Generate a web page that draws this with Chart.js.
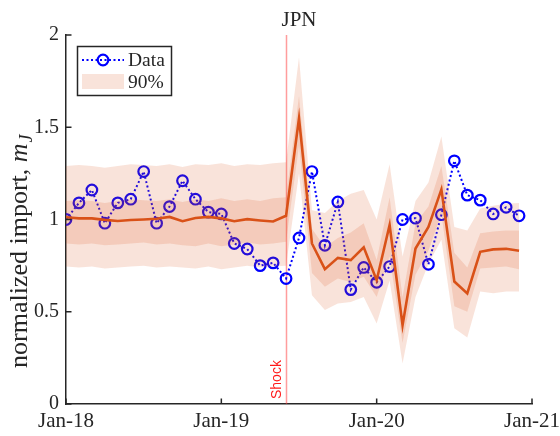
<!DOCTYPE html>
<html>
<head>
<meta charset="utf-8">
<title>JPN – normalized import</title>
<script src="https://cdn.jsdelivr.net/npm/chart.js@4/dist/chart.umd.min.js"></script>
<style>
  html, body { margin: 0; padding: 0; background: #fff; }
  #wrap { width: 560px; height: 436px; position: relative; }
</style>
</head>
<body>
<div id="wrap"><canvas id="c" width="560" height="436"></canvas></div>
<script>
/* ── Data ─────────────────────────────────────────────────────
   monthly, Jan-18 … Dec-20
──────────────────────────────────────────────────────────── */
const MONTHS = [
  "Jan-18","Feb-18","Mar-18","Apr-18","May-18","Jun-18","Jul-18","Aug-18","Sep-18","Oct-18","Nov-18","Dec-18",
  "Jan-19","Feb-19","Mar-19","Apr-19","May-19","Jun-19","Jul-19","Aug-19","Sep-19","Oct-19","Nov-19","Dec-19",
  "Jan-20","Feb-20","Mar-20","Apr-20","May-20","Jun-20","Jul-20","Aug-20","Sep-20","Oct-20","Nov-20","Dec-20",
];

const DATA = [
  1.00, 1.09, 1.16, 0.98, 1.09, 1.11, 1.26, 0.98, 1.07, 1.21, 1.11, 1.04,
  1.03, 0.87, 0.84, 0.75, 0.765, 0.68, 0.90, 1.26, 0.86, 1.095, 0.62, 0.74,
  0.66, 0.745, 1.00, 1.007, 0.757, 1.026, 1.318, 1.132, 1.105, 1.03, 1.066, 1.02,
];

const MEDIAN = [
  1.012, 1.006, 1.006, 0.998, 0.992, 0.997, 1.0, 1.004, 1.014, 0.991, 1.008, 1.014,
  1.006, 0.991, 1.002, 0.995, 0.989, 1.02, 1.548, 0.87, 0.731, 0.792, 0.78, 0.849,
  0.671, 0.97, 0.427, 0.843, 0.96, 1.163, 0.664, 0.599, 0.825, 0.838, 0.841, 0.831,
];

// outer band (90%)
const BAND_OUT_HI = [
  1.29, 1.295, 1.29, 1.28, 1.29, 1.30, 1.295, 1.29, 1.30, 1.285, 1.30, 1.295,
  1.305, 1.29, 1.30, 1.295, 1.305, 1.31, 1.88, 1.05, 1.035, 1.10, 1.14, 1.16,
  1.00, 1.30, 0.80, 1.10, 1.20, 1.45, 0.96, 0.94, 1.06, 1.075, 1.085, 1.09,
];
const BAND_OUT_LO = [
  0.745, 0.74, 0.745, 0.735, 0.74, 0.745, 0.75, 0.74, 0.745, 0.74, 0.735, 0.745,
  0.73, 0.74, 0.75, 0.74, 0.745, 0.75, 1.25, 0.59, 0.51, 0.545, 0.553, 0.58,
  0.436, 0.67, 0.22, 0.58, 0.76, 0.89, 0.41, 0.36, 0.61, 0.60, 0.61, 0.61,
];

// inner band
const BAND_IN_HI = [
  1.10, 1.105, 1.10, 1.09, 1.10, 1.11, 1.105, 1.10, 1.11, 1.095, 1.11, 1.10,
  1.115, 1.10, 1.11, 1.10, 1.115, 1.12, 1.67, 0.95, 0.85, 0.90, 0.93, 0.98,
  0.78, 1.12, 0.58, 0.98, 1.07, 1.29, 0.82, 0.74, 0.925, 0.935, 0.94, 0.94,
];
const BAND_IN_LO = [
  0.87, 0.865, 0.87, 0.86, 0.865, 0.87, 0.875, 0.865, 0.87, 0.86, 0.855, 0.87,
  0.855, 0.865, 0.875, 0.865, 0.87, 0.88, 1.40, 0.71, 0.635, 0.68, 0.66, 0.69,
  0.58, 0.80, 0.33, 0.70, 0.83, 1.03, 0.53, 0.50, 0.735, 0.74, 0.745, 0.73,
];

const X_TICKS       = [0, 12, 24, 36];
const X_TICK_LABELS = ["Jan-18", "Jan-19", "Jan-20", "Jan-21"];
const Y_TICKS       = [0, 0.5, 1, 1.5, 2];
const SHOCK_MONTH   = "Jun-19";

/* ── Style ── */
const SERIF  = "'Liberation Serif','Times New Roman',serif";
const AX     = "#262626";
const ORANGE = "#D95319";
const BLUE   = "#0000ff";
const BAND   = "rgba(217,83,25,0.16)";

const pts = arr => arr.map((v, i) => ({ x: i, y: v }));

/* ── Decorations: inward ticks, shock marker, title, ylabel, legend ── */
const decor = {
  id: "decor",
  beforeDatasetsDraw(chart) {
    const { ctx, chartArea: ca, scales: { x } } = chart;
    const sx = Math.round(x.getPixelForValue(MONTHS.indexOf(SHOCK_MONTH))) + 0.5;
    ctx.save();
    ctx.strokeStyle = "rgba(255,60,60,0.5)";
    ctx.lineWidth = 1.5;
    ctx.beginPath(); ctx.moveTo(sx, ca.top); ctx.lineTo(sx, ca.bottom); ctx.stroke();
    ctx.translate(sx - 6, ca.bottom - 5);
    ctx.rotate(-Math.PI / 2);
    ctx.fillStyle = "#ff1a1a";
    ctx.font = "14px 'Liberation Sans', Arial, sans-serif";
    ctx.textBaseline = "alphabetic";
    ctx.fillText("Shock", 0, 0);
    ctx.restore();
  },
  afterDraw(chart) {
    const { ctx, chartArea: ca, scales: { x, y } } = chart;
    ctx.save();
    // inward ticks
    ctx.strokeStyle = AX; ctx.lineWidth = 1.5;
    ctx.beginPath();
    X_TICKS.forEach(v => { const px = x.getPixelForValue(v); ctx.moveTo(px, ca.bottom); ctx.lineTo(px, ca.bottom - 5.5); });
    Y_TICKS.forEach(v => { const py = y.getPixelForValue(v); ctx.moveTo(ca.left, py); ctx.lineTo(ca.left + 5.5, py); });
    ctx.stroke();

    // title
    ctx.fillStyle = AX;
    ctx.font = "21px " + SERIF;
    ctx.textAlign = "center"; ctx.textBaseline = "alphabetic";
    ctx.fillText("JPN", (ca.left + ca.right) / 2, 26);

    // y label: normalized import, m_J
    ctx.save();
    ctx.translate(27, 368);
    ctx.rotate(-Math.PI / 2);
    ctx.textAlign = "left";
    ctx.font = "26px " + SERIF;
    const t1 = "normalized import, ";
    ctx.fillText(t1, 0, 0);
    let w = ctx.measureText(t1).width;
    ctx.font = "italic 26px " + SERIF;
    ctx.fillText("m", w, 0);
    w += ctx.measureText("m").width;
    ctx.font = "italic 18px " + SERIF;
    ctx.fillText("J", w + 1, 5);
    ctx.restore();

    // legend
    const bx = 77.5, by = 46.5, bw = 94, bh = 49;
    ctx.fillStyle = "#fff"; ctx.fillRect(bx, by, bw, bh);
    ctx.strokeStyle = AX; ctx.lineWidth = 1.5; ctx.strokeRect(bx, by, bw, bh);
    ctx.strokeStyle = BLUE; ctx.lineWidth = 2; ctx.setLineDash([2, 2.5]);
    ctx.beginPath(); ctx.moveTo(82, 60); ctx.lineTo(124, 60); ctx.stroke();
    ctx.setLineDash([]); ctx.lineWidth = 2.2;
    ctx.beginPath(); ctx.arc(103, 60, 5.3, 0, Math.PI * 2); ctx.stroke();
    ctx.fillStyle = BAND; ctx.fillRect(82, 74, 42, 15);
    ctx.fillStyle = AX; ctx.font = "19.5px " + SERIF; ctx.textAlign = "left";
    ctx.fillText("Data", 128, 66);
    ctx.fillText("90%", 128, 88);
    ctx.restore();
  },
};

new Chart(document.getElementById("c"), {
  type: "line",
  data: {
    datasets: [
      { data: pts(BAND_OUT_HI), fill: "+1", backgroundColor: BAND, borderWidth: 0, pointRadius: 0 },
      { data: pts(BAND_OUT_LO), fill: false, borderWidth: 0, pointRadius: 0 },
      { data: pts(BAND_IN_HI),  fill: "+1", backgroundColor: BAND, borderWidth: 0, pointRadius: 0 },
      { data: pts(BAND_IN_LO),  fill: false, borderWidth: 0, pointRadius: 0 },
      { data: pts(MEDIAN), borderColor: ORANGE, borderWidth: 2.6, pointRadius: 0, fill: false },
      {
        data: pts(DATA), borderColor: BLUE, borderWidth: 2, borderDash: [2, 2.5], fill: false,
        pointRadius: 5.3, pointBorderWidth: 2.2, pointBorderColor: BLUE, pointBackgroundColor: "rgba(0,0,0,0)",
      },
    ],
  },
  options: {
    responsive: false,
    animation: false,
    devicePixelRatio: 1,
    layout: { padding: { top: 35, right: 28, left: 0, bottom: 0 } },
    elements: { line: { tension: 0 } },
    plugins: { legend: { display: false }, tooltip: { enabled: false } },
    scales: {
      x: {
        type: "linear", min: 0, max: 36,
        afterBuildTicks: s => { s.ticks = X_TICKS.map(v => ({ value: v })); },
        afterFit: s => { s.height = 32; s.paddingLeft = 0; s.paddingRight = 0; },
        grid: { display: false, drawTicks: false },
        border: { display: true, color: AX, width: 1.5 },
        ticks: {
          padding: 5, color: AX, maxRotation: 0, autoSkip: false,
          font: { family: SERIF, size: 21 },
          callback: v => X_TICK_LABELS[X_TICKS.indexOf(v)],
        },
      },
      y: {
        min: 0, max: 2,
        afterBuildTicks: s => { s.ticks = Y_TICKS.map(v => ({ value: v })); },
        afterFit: s => { s.width = 66; s.paddingTop = 0; s.paddingBottom = 0; },
        grid: { display: false, drawTicks: false },
        border: { display: true, color: AX, width: 1.5 },
        ticks: {
          padding: 7, color: AX,
          font: { family: SERIF, size: 20 },
          callback: v => String(v),
        },
      },
    },
  },
  plugins: [decor],
});
</script>
</body>
</html>
